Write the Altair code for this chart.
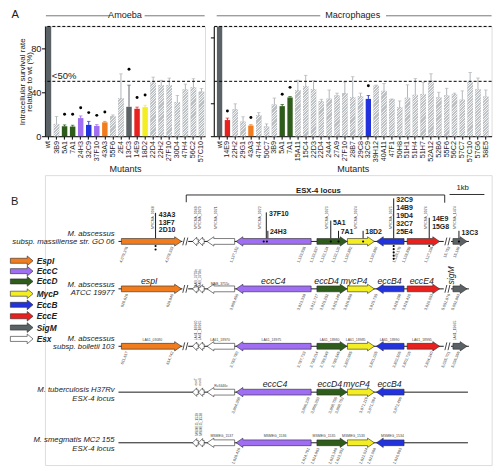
import altair as alt
import pandas as pd

S = 0.97                      # reference pixel -> page pixel
FONT = "Liberation Sans"
INK = "#222222"

# ---------------- Panel A data ----------------
amoeba_mutants = ["wt", "3B9", "5A1", "7A1", "24H3", "32C9", "37F10", "43A3", "55F6", "2E4",
                  "13C3", "14E9", "18D2", "22D4", "22H2", "27F10", "30D4", "47H4", "56C2", "57C10"]
amoeba_mean = [100, 11.2, 9.1, 8.8, 16.5, 10.3, 9.4, 12.6, 18.2, 34.7,
               26.8, 25.0, 26.5, 48.8, 46.5, 46.5, 31.2, 42.6, 44.7, 40.6]
amoeba_top = [100, 18.0, 10.3, 10.0, 18.5, 13.5, 10.6, 13.5, 19.4, 56.8,
              46.5, 26.5, 28.2, 53.8, 50.9, 52.9, 37.1, 47.4, 52.4, 43.5]
amoeba_group = ["wt", "none", "EccD", "EccD", "EccC", "EccB", "EccC", "EspI", "none", "none",
                "SigM", "EccE", "MycP", "none", "none", "none", "none", "none", "none", "none"]
amoeba_dot = [None, None, 20, 20, 26, 21.5, 19, 22, None, None,
              61, 35.3, 37.6, None, None, None, None, None, None, None]

macro_mutants = ["wt", "14E9", "22H2", "29G1", "43A3", "47H4", "50C7", "3B9", "5A1", "7A1",
                 "15A11", "15C4", "22D3", "22D4", "24A4", "27A9", "27F10", "28B7", "29C8", "32C9",
                 "39H12", "40A11", "47F1", "50H8", "51H1", "51H4", "51H7", "52A12", "52B6", "55F6",
                 "56C2", "57C7", "57C10", "57G6", "58E5"]
macro_mean = [100, 14.7, 24.5, 13.3, 9.7, 19.2, 8.8, 28.9, 27.4, 35.3,
              42.1, 45.7, 43.0, 31.8, 34.2, 37.1, 39.2, 35.7, 36.5, 34.0,
              46.0, 41.3, 33.8, 26.5, 35.0, 37.7, 38.5, 50.5, 35.3, 37.1,
              38.3, 33.3, 49.2, 42.8, 36.1]
macro_top = [100, 16.5, 29.5, 17.7, 10.5, 21.5, 11.2, 34.8, 28.9, 36.2,
             51.0, 55.4, 50.5, 33.6, 42.1, 39.2, 49.5, 54.2, 39.2, 37.1,
             46.5, 48.0, 33.9, 32.1, 46.8, 52.5, 48.9, 56.9, 40.0, 43.6,
             39.2, 41.3, 58.0, 53.0, 42.1]
macro_group = ["wt", "EccE", "none", "none", "EspI", "none", "none", "none", "EccD", "EccD",
               "none", "none", "none", "none", "none", "none", "none", "none", "none", "EccB",
               "none", "none", "none", "none", "none", "none", "none", "none", "none", "none",
               "none", "none", "none", "none", "none"]
macro_dot = [None, 23, None, None, 17, None, None, None, 38.3, 44.5,
             None, None, None, None, None, None, None, None, None, 46,
             None, None, None, None, None, None, None, None, None, None,
             None, None, None, None, None]

family_names = ["EspI", "EccC", "EccD", "MycP", "EccB", "EccE", "SigM", "Esx"]
family_fill = ["#f07c1e", "#9f6ef2", "#2e5c1b", "#f3ee24", "#2233dd", "#e8211f", "#5b6266", "#ffffff"]

FILL = dict(zip(family_names, family_fill))
FILL["wt"] = "#5b6266"
FILL["none"] = "#c6c9cc"
ERR = dict(FILL)
ERR["none"] = "#b0b4b7"
HATCH_BASE = "#bdc1c4"
HATCH_LINE = "#f1f2f3"

PLOT_H = 113.4 * S
PAD_INNER = 0.32


def hatch_gradient(w, h, period=2.6, white=0.95):
    total = w + h
    d = (w * w + h * h) / total
    stops = []
    s = 0.0
    while s < total - 1e-6:
        g_end = min(s + period - white, total)
        w_end = min(s + period, total)
        stops += [(s / total, HATCH_BASE), (g_end / total, HATCH_BASE),
                  (g_end / total, HATCH_LINE), (w_end / total, HATCH_LINE)]
        s += period
    return alt.LinearGradient(gradient="linear", x1=0, y1=0, x2=w / d, y2=h / d,
                              stops=[alt.GradientStop(offset=min(o, 1.0), color=c) for o, c in stops])


def bar_panel(mutants, mean, top, group, dot, width_ref, pad_outer, show_y, title_text, title_lines, extra):
    df = pd.DataFrame({"mutant": mutants, "mean": mean, "top": top, "group": group, "dot": dot})
    df["fill"] = df["group"].map(FILL)
    df["ecol"] = df["group"].map(ERR)
    x_axis = alt.Axis(title="Mutants", titleFontSize=9.3 * S, titleFontWeight="normal", titlePadding=3 * S,
                      titleColor=INK, titleFont=FONT, labelAngle=270, labelFontSize=7.4 * S, labelFont=FONT,
                      labelColor=INK, labelPadding=1.5 * S, tickSize=3 * S, tickColor="black",
                      domainColor="black", domainWidth=1, tickWidth=1)
    if show_y:
        y_axis = alt.Axis(title=["Intracellular survival rate", "relative to wt (%)"], titleFontSize=8.3 * S,
                          titleFontWeight="normal", titleFont=FONT, titleColor=INK, titlePadding=-3,
                          titleLineHeight=7.7 * S, values=[0, 20, 40, 60, 80, 100], labelFontSize=9.6 * S,
                          labelFont=FONT, labelColor=INK, labelPadding=0.5, tickSize=3.5 * S, tickColor="black",
                          domainColor="black", domainWidth=1, tickWidth=1, grid=False)
    else:
        y_axis = alt.Axis(title=None, labels=False, values=[0, 30, 90], tickSize=3.5 * S, tickColor="black",
                          domainColor="black", domainWidth=1, tickWidth=1, grid=False)
    xenc = alt.X("mutant:N", sort=mutants, scale=alt.Scale(paddingInner=PAD_INNER, paddingOuter=pad_outer),
                 axis=x_axis)

    def yenc(f):
        return alt.Y(f + ":Q", scale=alt.Scale(domain=[0, 100], nice=False), axis=y_axis)

    width_px = width_ref * S
    step = width_px / (len(mutants) - PAD_INNER + 2 * pad_outer)
    bw = step * (1 - PAD_INNER)

    base = alt.Chart(df)
    bars = base.mark_bar().encode(x=xenc, y=yenc("mean"), fill=alt.Fill("fill:N", scale=None))
    layers = [bars]
    for m, v, g in zip(mutants, mean, group):
        if g == "none":
            layers.append(base.transform_filter(alt.datum.mutant == m).mark_bar(
                fill=hatch_gradient(bw, v / 100 * PLOT_H)).encode(x=xenc, y=yenc("mean")))
    errs = base.transform_filter("datum.group != 'wt'").mark_rule(strokeWidth=1.0 * S).encode(
        x=xenc, y=yenc("mean"), y2="top:Q", stroke=alt.Stroke("ecol:N", scale=None))
    caps = base.transform_filter("datum.group != 'wt'").mark_tick(thickness=1.0 * S, size=3.6 * S).encode(
        x=xenc, y=yenc("top"), color=alt.Color("ecol:N", scale=None))
    dots = base.transform_filter("isValid(datum.dot)").mark_circle(size=9 * S, opacity=1, color="black").encode(
        x=xenc, y=yenc("dot"))
    dash = alt.Chart(pd.DataFrame({"v": [50, 100]})).mark_rule(color="black", strokeWidth=1.0,
                                                              strokeDash=[3, 2]).encode(y=yenc("v"))
    layers += [errs, caps, dots, dash]
    for (x0, x1) in title_lines:
        layers.append(alt.Chart(pd.DataFrame({"a": [0]})).mark_rule(color="#555555", strokeWidth=0.8).encode(
            x=alt.value(x0 * S), x2=alt.value(x1 * S), y=alt.value(-11 * S)))
    layers.append(alt.Chart(pd.DataFrame({"t": [title_text]})).mark_text(
        align="center", baseline="middle", fontSize=9.4 * S, font=FONT, color=INK).encode(
        x=alt.value(width_px / 2), y=alt.value(-11.3 * S), text="t:N"))
    layers += extra(xenc, yenc)
    return alt.layer(*layers).properties(width=width_px, height=PLOT_H)


def amoeba_extra(xenc, yenc):
    lab = alt.Chart(pd.DataFrame({"t": ["<50%"], "mutant": ["wt"]})).mark_text(
        align="left", baseline="middle", fontSize=9.8 * S, font=FONT, color=INK, dx=3.5 * S).encode(
        x=xenc, y=alt.datum(54.5), text="t:N")
    panel = alt.Chart(pd.DataFrame({"t": ["A"]})).mark_text(
        align="left", baseline="middle", fontSize=11.5 * S, font=FONT, color=INK).encode(
        x=alt.value(-34.6 * S), y=alt.value(-11.3 * S), text="t:N")
    return [lab, panel]


amoeba = bar_panel(amoeba_mutants, amoeba_mean, amoeba_top, amoeba_group, amoeba_dot, 165.4, 0.1, True,
                   "Amoeba", [(1, 67), (103, 165)], amoeba_extra)
macro = bar_panel(macro_mutants, macro_mean, macro_top, macro_group, macro_dot, 287, 0.4, False,
                  "Macrophages", [(3, 110), (178, 287)], lambda a, b: [])

# ---------------- Panel B data (schematic positions, reference units) ----------------
row_y = [241, 290, 349.3, 396.7, 449]
species_line1 = ["M. abscessus", "M. abscessus", "M. abscessus", "M. tuberculosis H37Rv", "M. smegmatis MC2 155"]
species_line2 = ["subsp. massiliense str. GO 06", "ATCC 19977", "subsp. bolletii 103", "ESX-4 locus", "ESX-4 locus"]
species_y1 = [233.5, 285.5, 341.5, 394.8, 446.5]
species_y2 = [242, 294, 350, 403.3, 455]

gene_ids = ["espI", "esx1", "esx2", "esx3", "eccC4", "eccD4", "mycP4", "eccB4", "eccE4", "sigM"]
gene_family = ["EspI", "Esx", "Esx", "Esx", "EccC", "EccD", "MycP", "EccB", "EccE", "SigM"]
gene_start = [118, 191.5, 197.6, 206.5, 236.5, 320, 351.5, 381.5, 413.3, 460.5]
gene_end = [180, 197.4, 203.5, 235, 314, 351, 379.3, 410, 446.7, 475]
gene_dir = ["R", "L", "L", "L", "L", "R", "R", "L", "R", "R"]
gene_small = [False, True, True, False, False, False, False, False, False, False]
row_genes = [gene_ids, gene_ids, gene_ids,
             ["esx1", "esx2", "esx3", "eccC4", "eccD4", "mycP4", "eccB4"],
             ["esx1", "esx2", "esx3", "eccC4", "eccD4", "mycP4", "eccB4"]]
row_segments = [[(115, 181), (187, 451), (458.5, 477)], [(115, 181), (187, 451), (458.5, 477)],
                [(115, 181), (187, 451), (458.5, 477)], [(115, 476)], [(115, 476)]]
break_x = [184, 454.8]

gene_label_text = ["espI", "eccC4", "eccD4", "mycP4", "eccB4", "eccE4", "eccC4", "eccD4", "mycP4", "eccB4"]
gene_label_x = [146.7, 275, 330, 358.3, 395, 428.3, 276.7, 333.3, 361, 395]
gene_label_y = [281.7, 282.3, 282.3, 282.3, 282.3, 282.3, 388.3, 388.3, 388.3, 388.3]

mut_line_x = [153.3, 267.7, 269.3, 334.3, 342.3, 367.7, 399.3, 436, 466.7]
mut_line_top = [211.5, 211, 230, 219.5, 230, 230, 196.5, 216.5, 230]
mut_text = ["43A3", "13F7", "2D10", "37F10", "24H3", "5A1", "7A1", "18D2",
            "32C9", "14B9", "19D4", "32C7", "25E4", "14E9", "15G8", "13C3"]
mut_text_x = [156.7, 156.7, 156.7, 270.5, 271.5, 336.5, 344.5, 370,
              402, 402, 402, 402, 402, 439, 439, 469.3]
mut_text_y = [214.2, 221.9, 229.6, 212.5, 231.5, 221.5, 231.5, 231.5,
              198.3, 206.7, 215, 223.3, 231.7, 217.7, 226, 232]
site_x = [153.3, 153.3, 265, 268.3, 334.3, 342.3, 367.7, 399.3, 399.3, 399.3, 399.3, 399.3, 436, 466.7]
site_y = [245.7, 249.3, 241, 241, 241, 241, 241, 245.7, 249, 252.3, 255.7, 259, 245.7, 241]

tag_rot_text = ["MYCMA_0068", "MYCMA_0069", "MYCMA_0070", "MYCMA_0071", "MYCMA_0072", "MYCMA_0073",
                "MYCMA_0074", "MYCMA_0075", "MYCMA_0076", "MYCMA_1474",
                "MAB_3759c", "MAB_3758c", "LA61_18960", "LA61_18965", "LA61_19665",
                "esxT", "esxU", "MSMEG_1539", "MSMEG_1538"]
tag_rot_x = [150.5, 195, 199, 216, 261, 330.5, 360, 396.5, 432.5, 462.5,
             195, 199, 195, 199, 463, 195.5, 199.5, 196, 200.5]
tag_rot_y = [216.5, 216.5, 216.5, 216.5, 216.5, 216.5, 216.5, 216.5, 216.5, 216.5,
             279, 279, 333, 333, 333, 386, 386, 430, 430]
tag_h_text = ["MAB_3755c", "LA61_03080", "LA61_18970", "LA61_18975", "LA61_18980", "LA61_18985",
              "LA61_18990", "LA61_18995", "Rv3446c", "MSMEG_1537", "MSMEG_1536", "MSMEG_1535",
              "MSMEG_1533", "MSMEG_1534"]
tag_h_x = [220, 150, 220, 273, 333, 360, 395, 428.5, 221, 221.7, 276.7, 327.3, 357.7, 398]
tag_h_y = [285, 342.5, 342.5, 342.5, 342.5, 342.5, 342.5, 342.5, 390.5, 442.5, 442, 442, 442, 442]

coord_x_full = [124, 171, 238, 307.5, 320.5, 331, 343, 355.5, 381.7, 406, 416, 439, 456.7, 466.7]
coord_x_short = [240, 311.7, 321.7, 340, 346.7, 371.7, 380, 406.7]
coord_text = [
    ["4,079,376", "4,078,333", "1,137,152", "1,133,936", "1,133,837", "1,132,124", "1,132,120",
     "1,130,882", "1,130,860", "1,129,179", "1,128,859", "1,127,336", "15,753", "15,169"],
    ["629,616", "628,840", "3,808,450", "3,813,338", "3,812,717", "3,815,252", "3,815,249",
     "3,816,858", "3,815,735", "3,818,259", "3,818,420", "3,820,053", "5,051,876", "5,052,863"],
    ["611,617", "614,742", "3,783,780", "3,787,733", "3,788,014", "3,789,549", "3,789,546",
     "3,800,985", "3,801,035", "3,802,506", "3,802,726", "3,804,340", "5,035,701", "5,036,366"],
    ["3,864,358", "3,866,238", "3,866,353", "3,868,755", "3,868,752", "3,871,119", "3,871,094", "3,872,496"],
    ["1,628,416", "1,624,791", "1,624,863", "1,623,348", "1,623,352", "1,622,024", "1,622,068", "1,620,993"],
]

legend_y = [261, 271.7, 282.3, 295, 306.5, 318.3, 330, 341.7]

# ---------------- Panel B construction ----------------
XMIN = 39.0                   # aligned with the left edge of the Amoeba plot
XMAX = 500.5
YMIN, YMAX = 172.5, 472.0
B_W = (XMAX - XMIN) * S
B_H = (YMAX - YMIN) * S


def xq(f):
    return alt.X(f, type="quantitative", scale=alt.Scale(domain=[XMIN, XMAX], nice=False, zero=False), axis=None)


def yq(f):
    return alt.Y(f, type="quantitative",
                 scale=alt.Scale(domain=[YMIN, YMAX], nice=False, zero=False, reverse=True), axis=None)


def arrow_pts(a, b, y, d, body, head, hl):
    hl = min(hl, (b - a) * 0.8)
    if d == "R":
        return [(a, y - body), (b - hl, y - body), (b - hl, y - head), (b, y),
                (b - hl, y + head), (b - hl, y + body), (a, y + body)]
    return [(b, y - body), (a + hl, y - body), (a + hl, y - head), (a, y),
            (a + hl, y + head), (a + hl, y + body), (b, y + body)]


FAM = dict(zip(family_names, family_fill))
poly = []
gid = 0
for r in range(5):
    for g in row_genes[r]:
        i = gene_ids.index(g)
        if gene_small[i]:
            pts = arrow_pts(gene_start[i], gene_end[i], row_y[r], gene_dir[i], 2.4, 4.4, 4.3)
        else:
            pts = arrow_pts(gene_start[i], gene_end[i], row_y[r], gene_dir[i], 3.0, 4.8, 7.0)
        for k, (px, py) in enumerate(pts):
            poly.append({"gid": gid, "k": k, "x": px, "y": py, "fill": FAM[gene_family[i]]})
        gid += 1
for j, fam in enumerate(family_names):
    pts = arrow_pts(3.3, 26.7, legend_y[j], "R", 2.6, 5.0, 6.0)
    for k, (px, py) in enumerate(pts):
        poly.append({"gid": gid, "k": k, "x": px, "y": py, "fill": family_fill[j]})
    gid += 1
poly_df = pd.DataFrame(poly)

rules = []
for r in range(5):
    for (s0, s1) in row_segments[r]:
        rules.append((s0, s1, row_y[r], row_y[r], 1.0))
for r in range(3):
    for bx in break_x:
        rules.append((bx - 2.6, bx - 0.6, row_y[r] + 4, row_y[r] - 4, 0.8))
        rules.append((bx + 0.6, bx + 2.6, row_y[r] + 4, row_y[r] - 4, 0.8))
for mx, mt in zip(mut_line_x, mut_line_top):
    rules.append((mx, mx, mt, row_y[0] - 3, 1.0))
rules += [(185, 452, 193, 193, 0.9), (185, 185, 193, 200.5, 0.9), (452, 452, 193, 201, 0.9),
          (457, 493, 192.5, 192.5, 0.9)]
rules_df = pd.DataFrame(rules, columns=["x", "x2", "y", "y2", "w"])

rule_layer = alt.Chart(rules_df).mark_rule(color="#1a1a1a").encode(
    x=xq("x"), x2="x2:Q", y=yq("y"), y2="y2:Q", strokeWidth=alt.StrokeWidth("w:Q", scale=None))

arrow_layer = alt.Chart(poly_df).mark_line(filled=True, interpolate="linear-closed", stroke="#2a2a2a",
                                           strokeWidth=0.6).encode(
    x=xq("x"), y=yq("y"), color=alt.Color("fill:N", scale=None), detail="gid:N", order="k:Q")

site_layer = alt.Chart(pd.DataFrame({"x": site_x, "y": site_y})).mark_circle(
    size=4.5, color="black", opacity=1).encode(x=xq("x"), y=yq("y"))


def text_layer(xs, ys, texts, **kw):
    df = pd.DataFrame({"x": xs, "y": ys, "t": texts})
    props = dict(font=FONT, color=INK, baseline="middle")
    props.update(kw)
    return alt.Chart(df).mark_text(**props).encode(x=xq("x"), y=yq("y"), text="t:N")


sp_layer1 = text_layer([111] * 5, species_y1, species_line1, align="right", fontStyle="italic", fontSize=7.95 * S)
sp_layer2 = text_layer([111] * 5, species_y2, species_line2, align="right", fontStyle="italic", fontSize=7.95 * S)
gene_lab = text_layer(gene_label_x, gene_label_y, gene_label_text, align="center", fontStyle="italic",
                      fontSize=9 * S)
sigm_lab = text_layer([459], [276], ["sigM"], align="center", fontStyle="italic", fontSize=9 * S, angle=270)
mut_lab = text_layer(mut_text_x, mut_text_y, mut_text, align="left", fontWeight="bold", fontSize=7.2 * S)
tag_rot = text_layer(tag_rot_x, tag_rot_y, tag_rot_text, align="center", fontSize=3.6 * S, angle=270,
                     color="#444444")
tag_h = text_layer(tag_h_x, tag_h_y, tag_h_text, align="center", fontSize=3.6 * S, color="#444444")

cx, cy, ct = [], [], []
for r in range(5):
    xs = coord_x_full if r < 3 else coord_x_short
    for x, t in zip(xs, coord_text[r]):
        cx.append(x)
        cy.append(row_y[r] + 5.5)
        ct.append(t)
coord_lab = text_layer(cx, cy, ct, align="right", fontSize=4.0 * S, angle=292, color="#333333")

legend_lab = text_layer([30.5] * 8, legend_y, family_names, align="left", fontStyle="italic",
                        fontWeight="bold", fontSize=8.6 * S)
locus_lab = text_layer([321.5], [188.5], ["ESX-4  locus"], align="center", fontWeight="bold", fontSize=8 * S)
kb_lab = text_layer([470.5], [185.8], ["1kb"], align="center", fontSize=8 * S)
b_lab = text_layer([4], [200], ["B"], align="left", fontSize=11.5 * S)

panel_b = alt.layer(rule_layer, arrow_layer, site_layer, sp_layer1, sp_layer2, gene_lab, sigm_lab, mut_lab,
                    tag_rot, tag_h, coord_lab, legend_lab, locus_lab, kb_lab, b_lab).properties(
    width=B_W, height=B_H)

top = alt.hconcat(amoeba, macro, spacing=2.2)
chart = alt.vconcat(top, panel_b, spacing=0).properties(padding=0).configure_view(
    stroke="transparent").configure(font=FONT)

chart.save("out.html", embed_options={"renderer": "svg", "actions": False})
